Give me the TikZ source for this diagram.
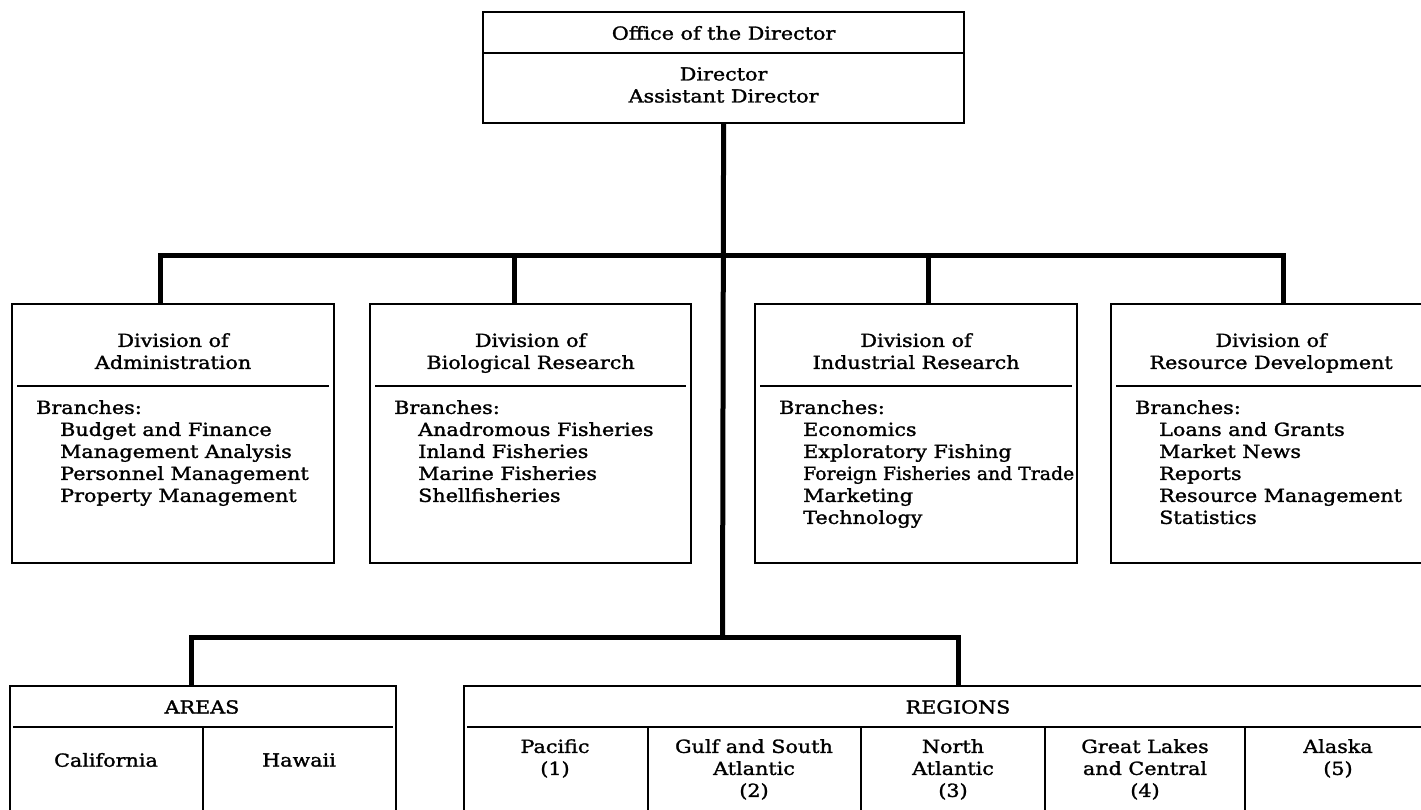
\documentclass[tikz,border=0pt]{standalone}
\usepackage{fontspec}
\setmainfont{DejaVu Serif}[FakeStretch=1.15, FakeBold=1.5]
\newcommand{\chart}{\fontsize{18}{22}\selectfont}
\newcommand{\brind}{\hspace*{24pt}}
\tikzset{
  box/.style={draw, line width=2.2pt, anchor=north west, inner sep=0pt},
  bar/.style={line width=5pt, line join=miter},
  rule/.style={line width=2pt},
  cut/.style={line width=1.6pt},
  txt/.style={inner sep=0pt, align=center, font=\chart},
  lst/.style={inner sep=0pt, align=left, anchor=north west, font=\chart}
}
\begin{document}
\begin{tikzpicture}[x=1pt,y=-1pt]
\fill[white] (0,0) rectangle (1421,809);
\useasboundingbox (0,0) rectangle (1421,809);
% office
\node[box, minimum width=481pt, minimum height=111pt] (office) at (482,11) {};
\draw[rule] ([xshift=2pt]office.west |- 0,53) -- ([xshift=-2pt]office.east |- 0,53);
\node[txt] (offt) at (office.north |- 0,33) {Office of the Director};
\node[txt] (offn) at (office.north |- 0,85) {Director\\Assistant Director};
% divisions
\node[box, minimum width=322pt, minimum height=259pt] (adm) at (11,303) {};
\node[box, minimum width=321pt, minimum height=259pt] (bio) at (369,303) {};
\node[box, minimum width=322pt, minimum height=259pt] (ind) at (754,303) {};
\node[box, minimum width=320pt, minimum height=259pt] (res) at (1110,303) {};
\foreach \b in {adm,bio,ind,res}
  \draw[rule] ([xshift=6pt]\b.west |- 0,386) -- ([xshift=-6pt]\b.east |- 0,386);
\node[txt, anchor=north] (admh) at (adm.north |- 0,333) {Division of\\Administration};
\node[txt, anchor=north] (bioh) at (bio.north |- 0,333) {Division of\\Biological Research};
\node[txt, anchor=north] (indh) at (ind.north |- 0,333) {Division of\\Industrial Research};
\node[txt, anchor=north] (resh) at (res.north |- 0,333) {Division of\\Resource Development};
\node[lst] (adml) at ([xshift=25pt]adm.west |- 0,400) {Branches:\\\brind Budget and Finance\\\brind Management Analysis\\\brind Personnel Management\\\brind Property Management};
\node[lst] (biol) at ([xshift=25pt]bio.west |- 0,400) {Branches:\\\brind Anadromous Fisheries\\\brind Inland Fisheries\\\brind Marine Fisheries\\\brind Shellfisheries};
\node[lst] (indl) at ([xshift=25pt]ind.west |- 0,400) {Branches:\\\brind Economics\\\brind Exploratory Fishing\\\brind \scalebox{0.91}[1]{Foreign Fisheries and Trade}\\\brind Marketing\\\brind Technology};
\node[lst] (resl) at ([xshift=25pt]res.west |- 0,400) {Branches:\\\brind Loans and Grants\\\brind Market News\\\brind Reports\\\brind Resource Management\\\brind Statistics};
% areas and regions
\node[box, minimum width=386pt, minimum height=130pt] (areas) at (9,685) {};
\node[box, minimum width=977pt, minimum height=130pt] (regs) at (463,685) {};
\draw[rule] ([xshift=4pt]areas.west |- 0,727) -- ([xshift=-4pt]areas.east |- 0,727);
\draw[rule] ([xshift=4pt]regs.west |- 0,727) -- (regs.east |- 0,727);
\foreach \x in {203,648,861,1045,1245}
  \draw[cut] (\x,727) -- (\x,815);
\node[txt] (aret) at (202,707) {AREAS};
\node[txt] (regt) at (958,707) {REGIONS};
\node[txt] (cal) at (106,760) {California};
\node[txt] (haw) at (299,760) {Hawaii};
\node[txt, anchor=north] (pac) at (555,739) {Pacific\\(1)};
\node[txt, anchor=north] (gulf) at (754,739) {Gulf and South\\Atlantic\\(2)};
\node[txt, anchor=north] (nat) at (953,739) {North\\Atlantic\\(3)};
\node[txt, anchor=north] (glc) at (1145,739) {Great Lakes\\and Central\\(4)};
\node[txt, anchor=north] (ala) at (1338,739) {Alaska\\(5)};
% connectors
\coordinate (hub) at (722.5,255);
\coordinate (low) at (722.5,637);
\coordinate (tadm) at (160,303);
\coordinate (tbio) at (514,303);
\coordinate (tind) at (928,303);
\coordinate (tres) at (1283,303);
\coordinate (tare) at (191,685);
\coordinate (treg) at (958,685);
\draw[bar] (office.south) -- (low);
\draw[bar] (tadm) |- (hub) -| (tres);
\draw[bar] (tbio) -- (tbio |- hub);
\draw[bar] (tind) -- (tind |- hub);
\draw[bar] (tare) |- (low) -| (treg);
\end{tikzpicture}
\end{document}
